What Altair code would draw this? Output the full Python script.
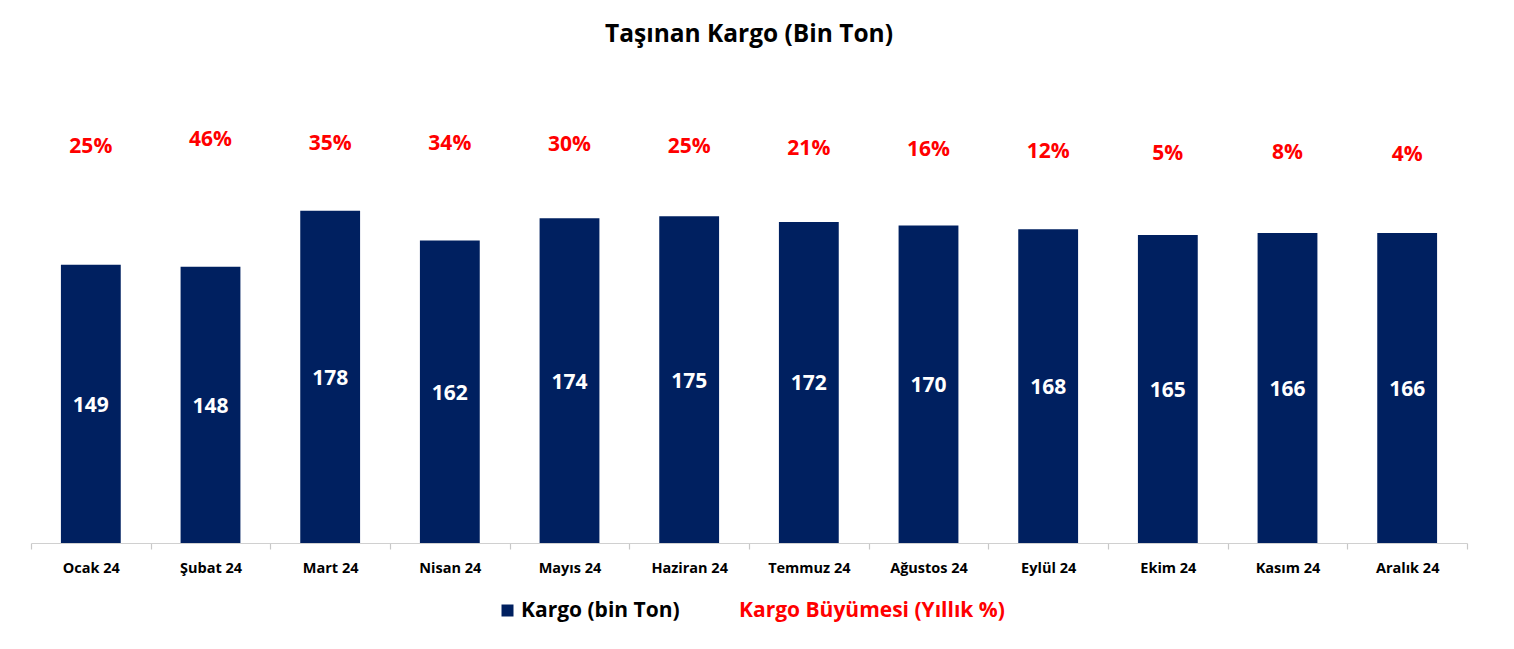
import altair as alt
import pandas as pd

months = ["Ocak 24", "Şubat 24", "Mart 24", "Nisan 24", "Mayıs 24", "Haziran 24",
          "Temmuz 24", "Ağustos 24", "Eylül 24", "Ekim 24", "Kasım 24", "Aralık 24"]
cargo = [149, 148, 178, 162, 174, 175, 172, 170, 168, 165, 166, 166]
growth = [25, 46, 35, 34, 30, 25, 21, 16, 12, 5, 8, 4]

bar_series = "Kargo (bin Ton)"
growth_series = "Kargo Büyümesi (Yıllık %)"

FONT = "Open Sans"
NAVY = "#002060"
RED = "#ff0000"

df = pd.DataFrame({"month": months, "cargo": cargo, "growth": growth})
df["bseries"] = bar_series
df["gseries"] = growth_series

x_enc = alt.X(
    "month:N", sort=months, title=None,
    scale=alt.Scale(paddingInner=0, paddingOuter=0),
    axis=alt.Axis(labelAngle=0, labelFont=FONT, labelFontSize=14.5, labelFontWeight="bold",
                  labelColor="black", labelPadding=12, tickBand="extent", ticks=True,
                  tickColor="#c8c8c8", tickWidth=1.2, domainColor="#d0d0d0", domainWidth=1.2,
                  tickSize=6, grid=False),
)

base = alt.Chart(df)

bars = base.mark_bar(width=alt.RelativeBandSize(0.5)).encode(
    x=x_enc,
    y=alt.Y("cargo:Q", scale=alt.Scale(domain=[0, 248], nice=False), axis=None),
    color=alt.Color("bseries:N", scale=alt.Scale(domain=[bar_series], range=[NAVY]),
                    legend=alt.Legend(title=None, orient="none", legendX=466, legendY=520,
                                      symbolType="square", symbolSize=144, symbolStrokeWidth=0,
                                      labelFont=FONT, labelFontSize=21, labelFontWeight="bold",
                                      labelColor="black", labelOffset=3, padding=0, labelLimit=0)),
)

bar_labels = base.transform_calculate(half="datum.cargo / 2").mark_text(
    font=FONT, fontSize=21, fontWeight="bold", color="white", baseline="middle", dy=2
).encode(
    x=x_enc,
    y=alt.Y("half:Q", scale=alt.Scale(domain=[0, 248], nice=False), axis=None),
    text=alt.Text("cargo:Q"),
)

pct_labels = base.transform_calculate(pct="datum.growth + '%'").mark_text(
    font=FONT, fontSize=21, fontWeight="bold", baseline="middle"
).encode(
    x=x_enc,
    y=alt.Y("growth:Q", scale=alt.Scale(domain=[-1084, 213], nice=False, zero=False), axis=None),
    text=alt.Text("pct:N"),
    color=alt.Color("gseries:N", scale=alt.Scale(domain=[growth_series], range=[RED]),
                    legend=alt.Legend(title=None, orient="none", legendX=687, legendY=520,
                                      symbolSize=0, symbolOpacity=0, symbolStrokeWidth=0,
                                      labelFont=FONT, labelFontSize=21, labelFontWeight="bold",
                                      labelColor=RED, labelOffset=0, padding=0, labelLimit=0)),
)

chart = alt.layer(bars, bar_labels, pct_labels).resolve_scale(
    y="independent", color="independent"
).properties(
    width=1436, height=463,
    autosize=alt.AutoSizeParams(type="none"),
    padding={"left": 23, "top": 72, "right": 39, "bottom": 98},
    background="white",
    title=alt.TitleParams("Taşınan Kargo (Bin Ton)", font=FONT, fontSize=24.5, fontWeight="bold",
                          color="black", anchor="middle", offset=33),
).configure_view(strokeWidth=0)

chart.save("out.html", embed_options={"renderer": "svg", "actions": False})
